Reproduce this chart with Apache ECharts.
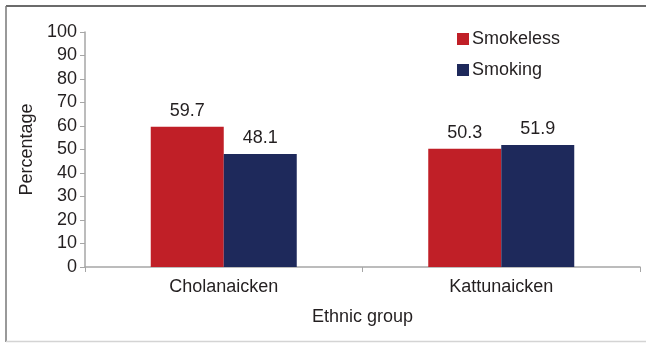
<!DOCTYPE html>
<html>
<head>
<meta charset="utf-8">
<style>
  html, body { margin: 0; padding: 0; background: #fff; }
  #chart { width: 646px; height: 343px; }
</style>
<script src="https://cdn.jsdelivr.net/npm/echarts@6/dist/echarts.min.js"></script>
</head>
<body>
<div id="chart"></div>
<script>
  const categories = ['Cholanaicken', 'Kattunaicken'];
  const smokeless = [59.7, 50.3];
  const smoking = [48.1, 51.9];
  const seriesNames = ['Smokeless', 'Smoking'];

  const textColor = '#231f20';
  const font = 'Liberation Sans, Arial, sans-serif';
  const fs = 18;

  const chart = echarts.init(document.getElementById('chart'));

  const labelStyle = {
    show: true,
    position: 'top',
    distance: 7,
    color: textColor,
    fontSize: fs,
    fontFamily: font
  };

  chart.setOption({
    animation: false,
    graphic: [
      { type: 'line', shape: { x1: 6, y1: 6, x2: 646, y2: 6 }, style: { stroke: '#3a3a3a', lineWidth: 1.5 } },
      { type: 'line', shape: { x1: 6, y1: 6, x2: 6, y2: 342 }, style: { stroke: '#777', lineWidth: 1.5 } },
      { type: 'line', shape: { x1: 6, y1: 341.5, x2: 646, y2: 341.5 }, style: { stroke: '#d4d4d4', lineWidth: 1.5 } }
    ],
    grid: { left: 85, right: 6, top: 32, bottom: 76, containLabel: false },
    legend: {
      orient: 'vertical',
      left: 452,
      top: 25,
      itemWidth: 12,
      itemHeight: 12,
      itemGap: 13,
      icon: 'rect',
      data: seriesNames,
      textStyle: { color: textColor, fontSize: fs, fontFamily: font, padding: [0, 0, 0, -2] }
    },
    xAxis: {
      type: 'category',
      data: categories,
      name: 'Ethnic group',
      nameLocation: 'middle',
      nameGap: 41,
      nameTextStyle: { color: textColor, fontSize: fs, fontFamily: font },
      axisLine: { lineStyle: { color: '#a6a6a6', width: 1.5 } },
      axisTick: { show: true, length: 5, lineStyle: { color: '#a6a6a6' } },
      axisLabel: { color: textColor, fontSize: fs, fontFamily: font, margin: 11 }
    },
    yAxis: {
      type: 'value',
      min: 0,
      max: 100,
      interval: 10,
      name: 'Percentage',
      nameLocation: 'middle',
      nameGap: 46,
      nameTextStyle: { color: textColor, fontSize: fs, fontFamily: font },
      axisLine: { show: true, lineStyle: { color: '#a6a6a6', width: 1.5 } },
      axisTick: { show: true, length: 5, lineStyle: { color: '#a6a6a6' } },
      axisLabel: { color: textColor, fontSize: fs, fontFamily: font, margin: 8 },
      splitLine: { show: false }
    },
    series: [
      {
        name: seriesNames[0],
        type: 'bar',
        data: smokeless,
        barWidth: 73,
        barGap: '0%',
        itemStyle: { color: '#c01f27' },
        label: labelStyle
      },
      {
        name: seriesNames[1],
        type: 'bar',
        data: smoking,
        barWidth: 73,
        itemStyle: { color: '#1e295b' },
        label: labelStyle
      }
    ]
  });
</script>
</body>
</html>
